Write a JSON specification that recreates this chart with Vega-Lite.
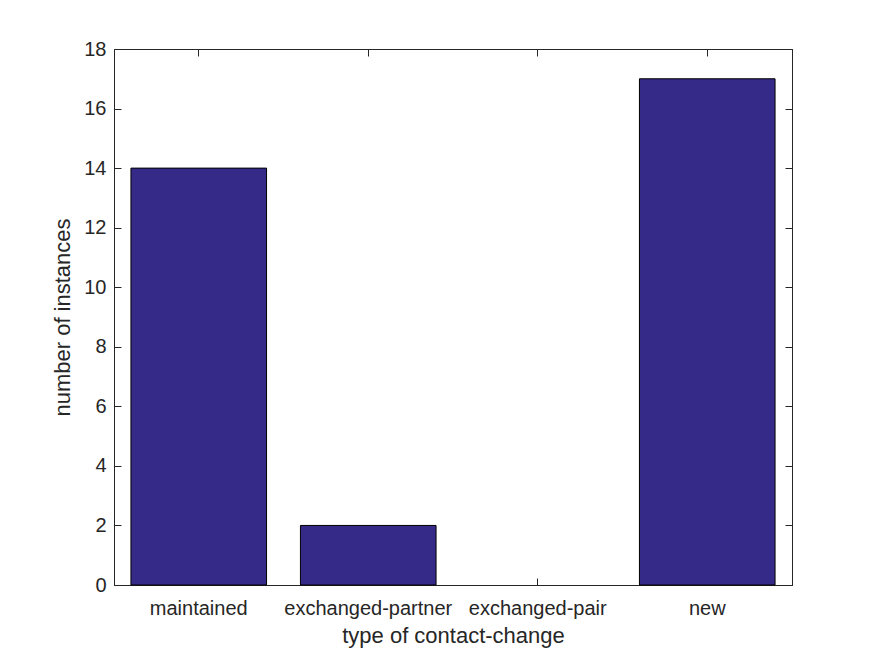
{
  "$schema": "https://vega.github.io/schema/vega-lite/v6.json",
  "width": 678,
  "height": 536,
  "autosize": {"type": "none"},
  "padding": {"left": 114, "top": 49, "right": 83, "bottom": 71},
  "background": "white",
  "config": {
    "view": {"stroke": "#262626", "strokeWidth": 1},
    "font": "Liberation Sans",
    "axis": {
      "grid": false,
      "domainColor": "#262626",
      "tickColor": "#262626",
      "labelColor": "#262626",
      "titleColor": "#262626",
      "labelFont": "Liberation Sans",
      "titleFont": "Liberation Sans",
      "labelFontSize": 20,
      "titleFontSize": 22,
      "titleFontWeight": "normal",
      "tickSize": -7
    }
  },
  "data": {
    "values": [
      {"type": "maintained", "count": 14},
      {"type": "exchanged-partner", "count": 2},
      {"type": "exchanged-pair", "count": 0},
      {"type": "new", "count": 17}
    ]
  },
  "layer": [
    {
      "mark": {"type": "bar", "fill": "#352A87", "strokeWidth": 1},
      "encoding": {
        "x": {
          "field": "type", "type": "nominal", "sort": null,
          "scale": {"paddingInner": 0.2, "paddingOuter": 0.1},
          "axis": {"orient": "bottom", "title": "type of contact-change", "labelAngle": 0, "labelPadding": 20, "titlePadding": 7}
        },
        "y": {
          "field": "count", "type": "quantitative",
          "scale": {"domain": [0, 18], "nice": false},
          "axis": {"orient": "left", "title": "number of instances", "values": [0,2,4,6,8,10,12,14,16,18], "labelPadding": 15, "titlePadding": 9}
        },
        "stroke": {"condition": {"test": "datum.count == 0", "value": null}, "value": "#000000"}
      }
    },
    {
      "mark": {"type": "bar", "opacity": 0},
      "encoding": {
        "x": {
          "field": "type", "type": "nominal", "sort": null,
          "axis": {"orient": "top", "title": null, "labels": false}
        },
        "y": {
          "field": "count", "type": "quantitative",
          "axis": {"orient": "right", "title": null, "labels": false, "values": [0,2,4,6,8,10,12,14,16,18]}
        }
      }
    }
  ],
  "resolve": {"axis": {"x": "independent", "y": "independent"}}
}
